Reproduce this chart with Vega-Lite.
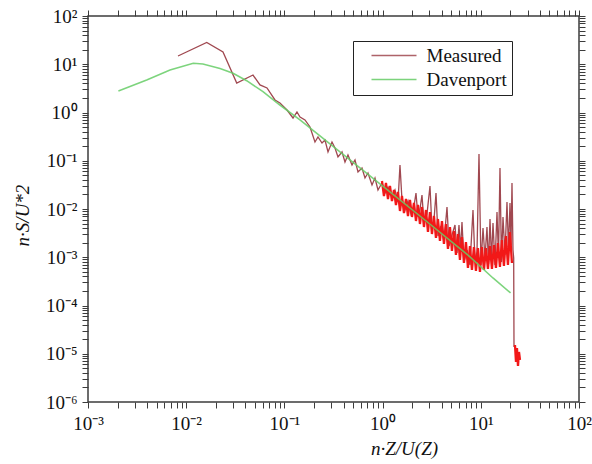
{
  "$schema": "https://vega.github.io/schema/vega-lite/v6.json",
  "width": 491,
  "height": 386,
  "autosize": {"type": "none"},
  "padding": {"left": 88, "top": 16, "right": 13, "bottom": 62},
  "background": "white",
  "config": {
    "view": {"stroke": "#3c3c3c", "strokeWidth": 1.5},
    "axis": {
      "grid": false, "domain": false, "tickColor": "#3c3c3c", "tickWidth": 1, "tickSize": 6,
      "labelFont": "Liberation Serif", "labelFontSize": 19, "labelColor": "#111",
      "titleFont": "Liberation Serif", "titleFontSize": 19, "titleFontWeight": "normal",
      "titleFontStyle": "italic", "titleColor": "#111",
      "labelOverlap": false, "labelFlush": false, "labelBound": false
    }
  },
  "data": {"values": [
    {"s":"Davenport","x":0.00204,"y":2.79},{"s":"Davenport","x":0.00396,"y":4.72},{"s":"Davenport","x":0.00684,"y":7.6},
    {"s":"Davenport","x":0.0118,"y":10.5},{"s":"Davenport","x":0.0148,"y":10.1},{"s":"Davenport","x":0.0221,"y":8.2},
    {"s":"Davenport","x":0.030,"y":6.5},{"s":"Davenport","x":0.0413,"y":4.56},{"s":"Davenport","x":0.0605,"y":2.70},
    {"s":"Davenport","x":0.090,"y":1.43},{"s":"Davenport","x":0.144,"y":0.70},{"s":"Davenport","x":0.368,"y":0.152},
    {"s":"Davenport","x":0.94,"y":0.033},{"s":"Davenport","x":2.40,"y":0.00716},{"s":"Davenport","x":7.41,"y":0.00111},
    {"s":"Davenport","x":13.3,"y":0.000372},{"s":"Davenport","x":20.1,"y":0.000182},

    {"s":"Measured","x":0.00825,"y":14.8},{"s":"Measured","x":0.01618,"y":28.2},{"s":"Measured","x":0.0237,"y":17.9},
    {"s":"Measured","x":0.0327,"y":4.08},{"s":"Measured","x":0.0479,"y":5.98},{"s":"Measured","x":0.0564,"y":3.72},
    {"s":"Measured","x":0.0665,"y":3.22},{"s":"Measured","x":0.0802,"y":1.82},{"s":"Measured","x":0.0901,"y":1.57},
    {"s":"Measured","x":0.1063,"y":1.127},{"s":"Measured","x":0.1224,"y":0.769},{"s":"Measured","x":0.1343,"y":1.024},
    {"s":"Measured","x":0.1442,"y":0.807},{"s":"Measured","x":0.162,"y":0.700},{"s":"Measured","x":0.1823,"y":0.501},
    {"s":"Measured","x":0.2048,"y":0.245},{"s":"Measured","x":0.2198,"y":0.3105},{"s":"Measured","x":0.2415,"y":0.2333},
    {"s":"Measured","x":0.259,"y":0.269},{"s":"Measured","x":0.278,"y":0.152},{"s":"Measured","x":0.3053,"y":0.245},
    {"s":"Measured","x":0.3275,"y":0.1837},{"s":"Measured","x":0.3513,"y":0.1197},{"s":"Measured","x":0.386,"y":0.152},
    {"s":"Measured","x":0.414,"y":0.0942},{"s":"Measured","x":0.444,"y":0.1315},{"s":"Measured","x":0.488,"y":0.0817},
    {"s":"Measured","x":0.5235,"y":0.1037},{"s":"Measured","x":0.5615,"y":0.0585},{"s":"Measured","x":0.6166,"y":0.0708},
    {"s":"Measured","x":0.6617,"y":0.0439},{"s":"Measured","x":0.7097,"y":0.0557},{"s":"Measured","x":0.780,"y":0.0314},
    {"s":"Measured","x":0.8365,"y":0.0439},{"s":"Measured","x":0.8974,"y":0.0248},{"s":"Measured","x":0.9858,"y":0.0346},
    {"s":"Measured","x":1.058,"y":0.0215},{"s":"Measured","x":1.135,"y":0.0286},{"s":"Measured","x":1.246,"y":0.01774},
    {"s":"Measured","x":1.337,"y":0.0248},{"s":"Measured","x":1.435,"y":0.01396},{"s":"Measured","x":1.503,"y":0.0817},
    {"s":"Measured","x":1.576,"y":0.01538},{"s":"Measured","x":1.690,"y":0.00953},{"s":"Measured","x":1.814,"y":0.01465},
    {"s":"Measured","x":1.946,"y":0.00788},{"s":"Measured","x":2.088,"y":0.01154},{"s":"Measured","x":2.188,"y":0.02147},
    {"s":"Measured","x":2.293,"y":0.00683},{"s":"Measured","x":2.403,"y":0.0100},{"s":"Measured","x":2.518,"y":0.01951},
    {"s":"Measured","x":2.639,"y":0.00513},{"s":"Measured","x":2.831,"y":0.00788},{"s":"Measured","x":3.038,"y":0.02997},
    {"s":"Measured","x":3.184,"y":0.00385},{"s":"Measured","x":3.337,"y":0.00592},{"s":"Measured","x":3.498,"y":0.02147},
    {"s":"Measured","x":3.666,"y":0.00276},{"s":"Measured","x":3.932,"y":0.00444},{"s":"Measured","x":4.219,"y":0.00207},
    {"s":"Measured","x":4.527,"y":0.0110},{"s":"Measured","x":4.745,"y":0.00171},{"s":"Measured","x":5.089,"y":0.00289},
    {"s":"Measured","x":5.461,"y":0.00466},{"s":"Measured","x":5.722,"y":0.001225},{"s":"Measured","x":5.997,"y":0.00466},
    {"s":"Measured","x":6.212,"y":0.001413},{"s":"Measured","x":6.433,"y":0.00538},{"s":"Measured","x":6.742,"y":0.000797},
    {"s":"Measured","x":7.234,"y":0.001413},{"s":"Measured","x":7.762,"y":0.000691},{"s":"Measured","x":8.327,"y":0.00953},
    {"s":"Measured","x":8.727,"y":0.000797},{"s":"Measured","x":9.146,"y":0.001285},{"s":"Measured","x":9.585,"y":0.138},
    {"s":"Measured","x":10.04,"y":0.000691},{"s":"Measured","x":10.53,"y":0.00404},{"s":"Measured","x":11.03,"y":0.000965},
    {"s":"Measured","x":11.56,"y":0.00424},{"s":"Measured","x":11.98,"y":0.000725},{"s":"Measured","x":12.41,"y":0.00621},
    {"s":"Measured","x":12.85,"y":0.000877},{"s":"Measured","x":13.31,"y":0.00513},{"s":"Measured","x":13.95,"y":0.000691},
    {"s":"Measured","x":14.62,"y":0.00867},{"s":"Measured","x":15.14,"y":0.000965},{"s":"Measured","x":15.68,"y":0.0708},
    {"s":"Measured","x":16.24,"y":0.000797},{"s":"Measured","x":16.83,"y":0.00683},{"s":"Measured","x":17.63,"y":0.001113},
    {"s":"Measured","x":18.48,"y":0.01397},{"s":"Measured","x":19.14,"y":0.001413},{"s":"Measured","x":19.83,"y":0.01332},
    {"s":"Measured","x":20.30,"y":0.001795},{"s":"Measured","x":20.78,"y":0.0346},{"s":"Measured","x":21.27,"y":0.001413},
    {"s":"Measured","x":21.62,"y":0.000965},{"s":"Measured","x":21.78,"y":0.0000138},

    {"s":"Red","x":0.9853,"y":0.03805},{"s":"Red","x":1.0326,"y":0.01861},{"s":"Red","x":1.0822,"y":0.03458},
    {"s":"Red","x":1.1341,"y":0.01612},{"s":"Red","x":1.1886,"y":0.02997},{"s":"Red","x":1.2456,"y":0.01465},
    {"s":"Red","x":1.3054,"y":0.02476},{"s":"Red","x":1.3681,"y":0.01211},{"s":"Red","x":1.4338,"y":0.02252},
    {"s":"Red","x":1.5026,"y":0.009091},{"s":"Red","x":1.5747,"y":0.01861},{"s":"Red","x":1.6503,"y":0.008265},
    {"s":"Red","x":1.7295,"y":0.01612},{"s":"Red","x":1.8125,"y":0.007161},{"s":"Red","x":1.8995,"y":0.01537},
    {"s":"Red","x":1.9907,"y":0.006831},{"s":"Red","x":2.0863,"y":0.01332},{"s":"Red","x":2.1864,"y":0.005642},
    {"s":"Red","x":2.2914,"y":0.01211},{"s":"Red","x":2.4013,"y":0.004889},{"s":"Red","x":2.5166,"y":0.01100},
    {"s":"Red","x":2.6374,"y":0.004236},{"s":"Red","x":2.7640,"y":0.009535},{"s":"Red","x":2.8967,"y":0.003337},
    {"s":"Red","x":3.0357,"y":0.008667},{"s":"Red","x":3.1814,"y":0.003033},{"s":"Red","x":3.3341,"y":0.007161},
    {"s":"Red","x":3.4942,"y":0.002506},{"s":"Red","x":3.6619,"y":0.006207},{"s":"Red","x":3.8377,"y":0.002172},
    {"s":"Red","x":4.0219,"y":0.005642},{"s":"Red","x":4.2149,"y":0.001883},{"s":"Red","x":4.4172,"y":0.004889},
    {"s":"Red","x":4.6293,"y":0.001483},{"s":"Red","x":4.8515,"y":0.004236},{"s":"Red","x":5.0843,"y":0.001348},
    {"s":"Red","x":5.3284,"y":0.003500},{"s":"Red","x":5.5842,"y":0.001113},{"s":"Red","x":5.8522,"y":0.003033},
    {"s":"Red","x":6.1331,"y":0.000877},{"s":"Red","x":6.4275,"y":0.002629},{"s":"Red","x":6.7360,"y":0.000760},
    {"s":"Red","x":7.0593,"y":0.002071},{"s":"Red","x":7.3982,"y":0.000599},{"s":"Red","x":7.7533,"y":0.001711},
    {"s":"Red","x":8.1255,"y":0.000544},{"s":"Red","x":8.5155,"y":0.001631},{"s":"Red","x":8.9242,"y":0.000519},
    {"s":"Red","x":9.3526,"y":0.001555},{"s":"Red","x":9.8015,"y":0.000495},{"s":"Red","x":10.272,"y":0.001631},
    {"s":"Red","x":10.765,"y":0.000544},{"s":"Red","x":11.282,"y":0.001555},{"s":"Red","x":11.823,"y":0.000571},
    {"s":"Red","x":12.391,"y":0.001711},{"s":"Red","x":12.986,"y":0.000571},{"s":"Red","x":13.609,"y":0.001795},
    {"s":"Red","x":14.262,"y":0.000599},{"s":"Red","x":14.947,"y":0.001974},{"s":"Red","x":15.664,"y":0.000628},
    {"s":"Red","x":16.416,"y":0.002278},{"s":"Red","x":17.204,"y":0.000659},{"s":"Red","x":18.030,"y":0.002757},
    {"s":"Red","x":18.895,"y":0.000691},{"s":"Red","x":19.802,"y":0.003337},{"s":"Red","x":20.753,"y":0.000760},

    {"s":"Blob","x":22.29,"y":0.00001519},{"s":"Blob","x":22.82,"y":0.00000675},{"s":"Blob","x":23.36,"y":0.00001316},
    {"s":"Blob","x":23.92,"y":0.000005575},{"s":"Blob","x":24.48,"y":0.00001087},{"s":"Blob","x":25.06,"y":0.00000742}
  ]},
  "layer": [
    {
      "transform": [{"filter": "datum.s == 'Measured'"}],
      "mark": {"type": "line", "strokeWidth": 1.3},
      "encoding": {
        "x": {"field": "x", "type": "quantitative",
          "scale": {"type": "log", "domain": [0.001, 100], "nice": false},
          "axis": {"orient": "bottom", "title": "n·Z/U(Z)", "titleX": 316, "titleY": 46, "titleBaseline": "middle", "titleAlign": "center",
            "labelPadding": 6,
            "values": [0.001,0.002,0.003,0.004,0.005,0.006,0.007,0.008,0.009,0.01,0.02,0.03,0.04,0.05,0.06,0.07,0.08,0.09,0.1,0.2,0.3,0.4,0.5,0.6,0.7,0.8,0.9,1,2,3,4,5,6,7,8,9,10,20,30,40,50,60,70,80,90,100],
            "labelExpr": "abs(log(datum.value)/LN10-round(log(datum.value)/LN10))<0.001 ? '10' + (round(log(datum.value)/LN10) < 0 ? '⁻' : '') + ['⁰','¹','²','³','⁴','⁵','⁶'][abs(round(log(datum.value)/LN10))] : ''",
            "encode": {"ticks": {"y2": {"condition": {"test": "abs(log(datum.value)/LN10-round(log(datum.value)/LN10))<0.001", "value": -6}, "value": -3}}}
          }},
        "y": {"field": "y", "type": "quantitative",
          "scale": {"type": "log", "domain": [0.000001, 100], "nice": false},
          "axis": {"orient": "left", "title": "n·S/U*2", "titleX": -66, "titleY": 199, "titleAngle": -90, "titleBaseline": "middle", "titleAlign": "center",
            "labelPadding": 5,
            "values": [0.000001,0.000002,0.000003,0.000004,0.000005,0.000006,0.000007,0.000008,0.000009,0.00001,0.00002,0.00003,0.00004,0.00005,0.00006,0.00007,0.00008,0.00009,0.0001,0.0002,0.0003,0.0004,0.0005,0.0006,0.0007,0.0008,0.0009,0.001,0.002,0.003,0.004,0.005,0.006,0.007,0.008,0.009,0.01,0.02,0.03,0.04,0.05,0.06,0.07,0.08,0.09,0.1,0.2,0.3,0.4,0.5,0.6,0.7,0.8,0.9,1,2,3,4,5,6,7,8,9,10,20,30,40,50,60,70,80,90,100],
            "labelExpr": "abs(log(datum.value)/LN10-round(log(datum.value)/LN10))<0.001 ? '10' + (round(log(datum.value)/LN10) < 0 ? '⁻' : '') + ['⁰','¹','²','³','⁴','⁵','⁶'][abs(round(log(datum.value)/LN10))] : ''",
            "encode": {"ticks": {"x2": {"condition": {"test": "abs(log(datum.value)/LN10-round(log(datum.value)/LN10))<0.001", "value": 6}, "value": 3}}}
          }},
        "color": {"field": "s", "type": "nominal",
          "scale": {"domain": ["Measured", "Davenport"], "range": ["#a04850", "#66cc66"]},
          "legend": {"title": null, "orient": "none", "legendX": 265, "legendY": 25,
            "symbolType": "M-4.5,0H4.5", "symbolSize": 100, "symbolStrokeWidth": 1.5, "symbolOffset": 26.5,
            "labelOffset": 23, "labelFont": "Liberation Serif", "labelFontSize": 19, "labelColor": "#111",
            "padding": 5, "rowPadding": 4, "strokeColor": "#222", "fillColor": "white"}
        }
      }
    },
    {
      "transform": [{"filter": "datum.s == 'Red' || datum.s == 'Blob'"}],
      "mark": {"type": "line", "color": "#f21818", "strokeWidth": 2.3},
      "encoding": {
        "x": {"field": "x", "type": "quantitative", "axis": null},
        "y": {"field": "y", "type": "quantitative", "axis": null},
        "detail": {"field": "s", "type": "nominal"}
      }
    },
    {
      "transform": [{"filter": "datum.s == 'Davenport'"}],
      "mark": {"type": "line", "strokeWidth": 1.6, "opacity": 0.85},
      "encoding": {
        "x": {"field": "x", "type": "quantitative",
          "axis": {"orient": "top", "labels": false, "title": null,
            "values": [0.001,0.002,0.003,0.004,0.005,0.006,0.007,0.008,0.009,0.01,0.02,0.03,0.04,0.05,0.06,0.07,0.08,0.09,0.1,0.2,0.3,0.4,0.5,0.6,0.7,0.8,0.9,1,2,3,4,5,6,7,8,9,10,20,30,40,50,60,70,80,90,100],
            "encode": {"ticks": {"y2": {"condition": {"test": "abs(log(datum.value)/LN10-round(log(datum.value)/LN10))<0.001", "value": 6}, "value": 3}}}
          }},
        "y": {"field": "y", "type": "quantitative",
          "axis": {"orient": "right", "labels": false, "title": null,
            "values": [0.000001,0.000002,0.000003,0.000004,0.000005,0.000006,0.000007,0.000008,0.000009,0.00001,0.00002,0.00003,0.00004,0.00005,0.00006,0.00007,0.00008,0.00009,0.0001,0.0002,0.0003,0.0004,0.0005,0.0006,0.0007,0.0008,0.0009,0.001,0.002,0.003,0.004,0.005,0.006,0.007,0.008,0.009,0.01,0.02,0.03,0.04,0.05,0.06,0.07,0.08,0.09,0.1,0.2,0.3,0.4,0.5,0.6,0.7,0.8,0.9,1,2,3,4,5,6,7,8,9,10,20,30,40,50,60,70,80,90,100],
            "encode": {"ticks": {"x2": {"condition": {"test": "abs(log(datum.value)/LN10-round(log(datum.value)/LN10))<0.001", "value": -6}, "value": -3}}}
          }},
        "color": {"field": "s", "type": "nominal"}
      }
    }
  ],
  "resolve": {"axis": {"x": "independent", "y": "independent"}}
}
